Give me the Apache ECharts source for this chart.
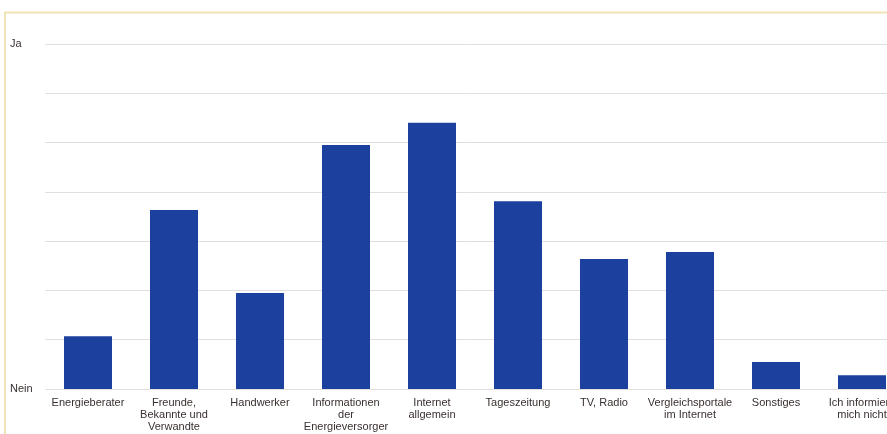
<!DOCTYPE html>
<html><head><meta charset="utf-8">
<script src="https://cdn.jsdelivr.net/npm/echarts@6/dist/echarts.min.js"></script>
<style>html,body{margin:0;padding:0;background:#fff}#c{width:887px;height:434px}</style>
</head><body><div id="c"></div>
<script>
const categories = ["Energieberater","Freunde,\nBekannte und\nVerwandte","Handwerker","Informationen\nder\nEnergieversorger","Internet\nallgemein","Tageszeitung","TV, Radio","Vergleichsportale\nim Internet","Sonstiges","Ich informiere\nmich nicht"];
const values = [1.07, 3.63, 1.95, 4.95, 5.40, 3.81, 2.64, 2.78, 0.55, 0.28];
const yTickLabels = {0: "Nein", 7: "Ja"};

const chart = echarts.init(document.getElementById('c'));
chart.setOption({
  animation: false,
  graphic: [{type:'polyline', shape:{points:[[5,434],[5,12.5],[887,12.5]]}, style:{stroke:'#efe3b5', lineWidth:2, fill:null}}],
  grid: {left: 45, top: 44, width: 860, height: 345, containLabel: false, outerBoundsMode: 'none'},
  xAxis: {type:'category', data: categories,
    axisLine:{show:false}, axisTick:{show:false},
    axisLabel:{interval:0, color:'#3a3030', fontSize:11, fontFamily:'Liberation Sans, Arial, sans-serif', lineHeight:12, margin:8}},
  yAxis: {type:'value', min:0, max:7, interval:1,
    axisLine:{show:false}, axisTick:{show:false},
    splitLine:{lineStyle:{color:'#e2dede', width:1}},
    axisLabel:{align:'left', margin:35, color:'#3a3030', fontSize:11, fontFamily:'Liberation Sans, Arial, sans-serif',
      formatter: v => yTickLabels[v] || ''}},
  series: [{type:'bar', data: values, barWidth:48, itemStyle:{color:'#1b409e'}}]
});
</script></body></html>
